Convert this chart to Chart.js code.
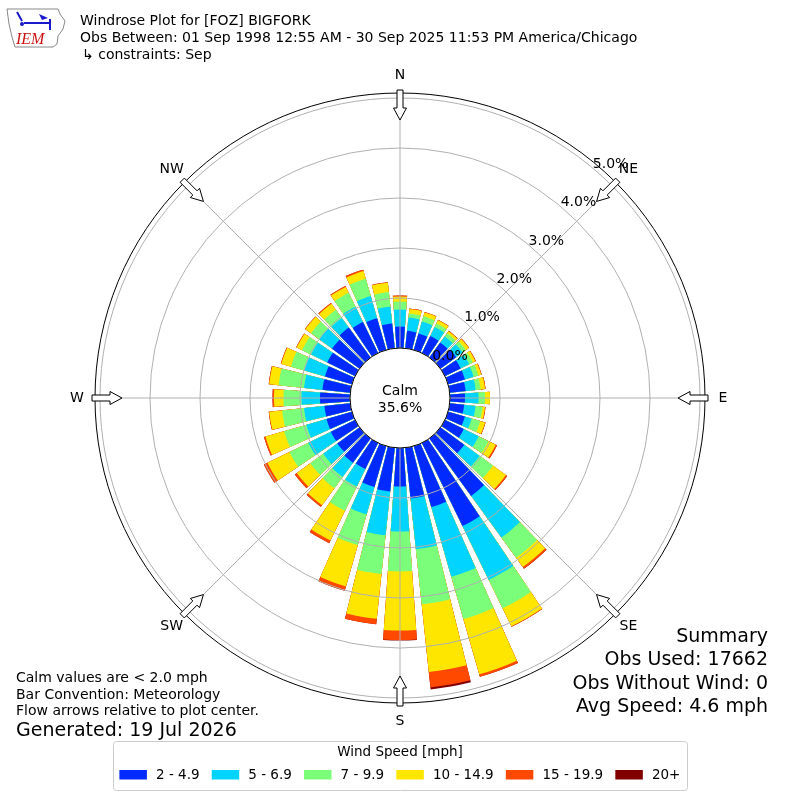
<!DOCTYPE html>
<html>
<head>
<meta charset="utf-8">
<title>Windrose Plot for [FOZ] BIGFORK</title>
<script src="https://cdn.jsdelivr.net/npm/chart.js@4.4.1/dist/chart.umd.min.js"></script>
<style>
html, body { margin: 0; padding: 0; background: #ffffff; }
canvas { display: block; }
</style>
</head>
<body>
<canvas id="windrose" width="800" height="800"></canvas>
<script>
var directions = [0, 10, 20, 30, 40, 50, 60, 70, 80, 90, 100, 110, 120, 130, 140, 150, 160, 170,
    180, 190, 200, 210, 220, 230, 240, 250, 260, 270, 280, 290, 300, 310, 320, 330, 340, 350];
var compassLabels = ['N', 'NE', 'E', 'SE', 'S', 'SW', 'W', 'NW'];
var speedBins = ['2 - 4.9', '5 - 6.9', '7 - 9.9', '10 - 14.9', '15 - 19.9', '20+'];
var binColors = ['#002aff', '#00d4ff', '#7bff7b', '#ffe600', '#ff4800', '#800000'];

// percent of all obs, per direction, one list per speed bin
var pct2to5 = [0.43, 0.35, 0.34, 0.38, 0.37, 0.39, 0.35, 0.35, 0.32, 0.30, 0.29, 0.35, 0.42, 0.59, 1.42, 1.85, 1.27, 1.02,
    0.77, 0.88, 0.85, 0.58, 0.60, 0.55, 0.54, 0.53, 0.52, 0.60, 0.56, 0.56, 0.62, 0.68, 0.74, 0.69, 0.66, 0.50];
var pct5to7 = [0.34, 0.27, 0.25, 0.20, 0.15, 0.16, 0.19, 0.18, 0.20, 0.27, 0.23, 0.14, 0.33, 0.38, 1.03, 1.20, 1.45, 1.02,
    0.90, 0.88, 0.57, 0.39, 0.35, 0.35, 0.50, 0.42, 0.41, 0.37, 0.37, 0.43, 0.36, 0.32, 0.24, 0.34, 0.46, 0.34];
var pct7to10 = [0.16, 0.08, 0.11, 0.08, 0.08, 0.08, 0.08, 0.10, 0.10, 0.13, 0.14, 0.18, 0.22, 0.33, 0.50, 0.63, 0.88, 1.11,
    0.80, 0.78, 0.64, 0.54, 0.28, 0.32, 0.42, 0.46, 0.44, 0.36, 0.51, 0.28, 0.20, 0.20, 0.20, 0.31, 0.36, 0.29];
var pct10to15 = [0.10, 0.09, 0.08, 0.07, 0.05, 0.07, 0.06, 0.06, 0.09, 0.10, 0.05, 0.10, 0.16, 0.32, 0.23, 0.40, 1.15, 1.36,
    1.18, 0.90, 0.86, 0.66, 0.42, 0.33, 0.49, 0.39, 0.26, 0.19, 0.19, 0.20, 0.12, 0.14, 0.15, 0.13, 0.16, 0.19];
var pct15to20 = [0.02, 0.01, 0.01, 0.01, 0.01, 0.01, 0.01, 0.01, 0.01, 0.00, 0.01, 0.01, 0.03, 0.03, 0.04, 0.01, 0.05, 0.31,
    0.19, 0.11, 0.09, 0.06, 0.04, 0.05, 0.08, 0.03, 0.01, 0.03, 0.01, 0.01, 0.01, 0.01, 0.02, 0.02, 0.03, 0.01];
var pct20plus = [0, 0, 0, 0, 0, 0, 0, 0, 0, 0, 0, 0, 0, 0, 0, 0, 0, 0.04,
    0.01, 0, 0, 0, 0, 0, 0, 0, 0, 0, 0, 0, 0, 0, 0, 0, 0, 0];

var radialTicks = [0, 1, 2, 3, 4, 5];
var calmPercent = 35.6;

var titleLines = ['Windrose Plot for [FOZ] BIGFORK',
    'Obs Between: 01 Sep 1998 12:55 AM - 30 Sep 2025 11:53 PM America/Chicago',
    '\u21b3 constraints: Sep'];
var noteLines = ['Calm values are < 2.0 mph', 'Bar Convention: Meteorology', 'Flow arrows relative to plot center.'];
var generatedText = 'Generated: 19 Jul 2026';
var summaryLines = ['Summary', 'Obs Used: 17662', 'Obs Without Wind: 0', 'Avg Speed: 4.6 mph'];
var legendTitle = 'Wind Speed [mph]';

var binSeries = [pct2to5, pct5to7, pct7to10, pct10to15, pct15to20, pct20plus];
var barWidth = 8;   // degrees of each bar
var gapWidth = 2;   // degrees of white between bars
var rMin = -1;      // 0% sits one ring out, leaving room for the calm circle
var FONT = "'DejaVu Sans', sans-serif";

// polarArea can't stack, so every dataset carries the running total and the
// smaller totals get painted over the bigger ones. An empty slot after each
// direction makes the gap.
var roseLabels = [];
directions.forEach(function(d) {
    roseLabels.push(d + '\u00b0', '');
});

var roseDatasets = binSeries.map(function(series, b) {
    var data = [];
    directions.forEach(function(d, i) {
        var total = 0;
        for (var k = 0; k <= b; k++) {
            total += binSeries[k][i];
        }
        data.push(total, rMin);
    });
    return {
        label: speedBins[b],
        data: data,
        backgroundColor: binColors[b],
        borderWidth: 0,
        angle: function(ctx) {
            return ctx.dataIndex % 2 === 0 ? barWidth : gapWidth;
        }
    };
});

function polar(scale, r, deg) {
    var a = deg * Math.PI / 180;
    return { x: scale.xCenter + r * Math.sin(a), y: scale.yCenter - r * Math.cos(a) };
}

function drawArrow(ctx, scale, deg, rTip, rTail) {
    var a = deg * Math.PI / 180;
    var head = 12, hw = 6.5, sw = 3;
    var pts = [[rTip, 0], [rTip + head, hw], [rTip + head, sw], [rTail, sw],
               [rTail, -sw], [rTip + head, -sw], [rTip + head, -hw]];
    ctx.beginPath();
    pts.forEach(function(p, i) {
        var x = scale.xCenter + p[0] * Math.sin(a) + p[1] * Math.cos(a);
        var y = scale.yCenter - p[0] * Math.cos(a) + p[1] * Math.sin(a);
        if (i === 0) ctx.moveTo(x, y); else ctx.lineTo(x, y);
    });
    ctx.closePath();
    ctx.fillStyle = '#ffffff';
    ctx.fill();
    ctx.strokeStyle = '#000000';
    ctx.lineWidth = 1;
    ctx.stroke();
}

function drawLogo(ctx) {
    ctx.save();
    // rough Iowa outline
    var iowa = [[7, 9], [58, 9], [60, 14], [65, 21], [63, 29], [58, 36], [57, 44], [53, 47], [15, 47], [12, 37], [9, 24]];
    ctx.beginPath();
    iowa.forEach(function(p, i) { if (i === 0) ctx.moveTo(p[0], p[1]); else ctx.lineTo(p[0], p[1]); });
    ctx.closePath();
    ctx.strokeStyle = '#888888';
    ctx.lineWidth = 1;
    ctx.stroke();
    // wind barb
    ctx.strokeStyle = '#1a1acc';
    ctx.fillStyle = '#1a1acc';
    ctx.lineWidth = 2;
    ctx.beginPath();
    ctx.moveTo(24, 23); ctx.lineTo(50, 23);
    ctx.moveTo(17, 12); ctx.lineTo(22, 21);
    ctx.moveTo(50, 19); ctx.lineTo(50, 30);
    ctx.stroke();
    ctx.beginPath();
    ctx.moveTo(39, 14); ctx.lineTo(48, 18); ctx.lineTo(42, 20);
    ctx.closePath();
    ctx.fill();
    ctx.beginPath();
    ctx.arc(22, 24, 2, 0, 2 * Math.PI);
    ctx.fill();
    ctx.fillStyle = '#cc1111';
    ctx.font = 'italic 16px "Liberation Serif", serif';
    ctx.textAlign = 'left';
    ctx.textBaseline = 'alphabetic';
    ctx.fillText('IEM', 16, 44);
    ctx.restore();
}

var roseDecor = {
    id: 'roseDecor',
    afterDatasetsDraw: function(chart) {
        var s = chart.scales.r, ctx = chart.ctx;
        var r0 = s.getDistanceFromCenterForValue(0);
        var r1 = s.getDistanceFromCenterForValue(radialTicks[radialTicks.length - 1]);
        ctx.save();
        ctx.strokeStyle = '#b0b0b0';
        ctx.lineWidth = 1;
        for (var i = 0; i < 8; i++) {
            var p0 = polar(s, r0, i * 45), p1 = polar(s, r1, i * 45);
            ctx.beginPath();
            ctx.moveTo(p0.x, p0.y);
            ctx.lineTo(p1.x, p1.y);
            ctx.stroke();
        }
        ctx.restore();
    },
    afterDraw: function(chart) {
        var s = chart.scales.r, ctx = chart.ctx;
        var R = s.drawingArea;
        var rCalm = s.getDistanceFromCenterForValue(0);
        ctx.save();

        // calm circle
        ctx.beginPath();
        ctx.arc(s.xCenter, s.yCenter, rCalm, 0, 2 * Math.PI);
        ctx.fillStyle = '#ffffff';
        ctx.fill();
        ctx.strokeStyle = '#000000';
        ctx.lineWidth = 1;
        ctx.stroke();
        ctx.fillStyle = '#000000';
        ctx.font = '14px ' + FONT;
        ctx.textAlign = 'center';
        ctx.textBaseline = 'alphabetic';
        ctx.fillText('Calm', s.xCenter, s.yCenter - 3);
        ctx.fillText(calmPercent.toFixed(1) + '%', s.xCenter, s.yCenter + 14);

        // outer frame
        ctx.beginPath();
        ctx.arc(s.xCenter, s.yCenter, R + 5, 0, 2 * Math.PI);
        ctx.stroke();

        // ring labels
        ctx.textAlign = 'left';
        radialTicks.forEach(function(v) {
            var p = polar(s, s.getDistanceFromCenterForValue(v), 40);
            ctx.fillText(v.toFixed(1) + '%', p.x, p.y);
        });

        // direction arrows and names
        compassLabels.forEach(function(lab, i) {
            drawArrow(ctx, s, i * 45, R - 22, R + 8);
            var p = polar(s, R + 23, i * 45);
            ctx.fillStyle = '#000000';
            ctx.font = '14px ' + FONT;
            ctx.textAlign = 'center';
            ctx.textBaseline = 'middle';
            ctx.fillText(lab, p.x, p.y);
        });

        // header
        ctx.textBaseline = 'alphabetic';
        ctx.textAlign = 'left';
        ctx.font = '14px ' + FONT;
        ctx.fillText(titleLines[0], 80, 25);
        ctx.fillText(titleLines[1], 80, 42);
        ctx.fillText(titleLines[2], 82, 59);
        drawLogo(ctx);

        // notes, lower left
        ctx.fillStyle = '#000000';
        ctx.font = '14px ' + FONT;
        noteLines.forEach(function(t, i) {
            ctx.fillText(t, 16, 682 + i * 16.7);
        });
        ctx.font = '19px ' + FONT;
        ctx.fillText(generatedText, 16, 736);

        // summary, lower right
        ctx.textAlign = 'right';
        summaryLines.forEach(function(t, i) {
            ctx.fillText(t, 768, 642 + i * 23.3);
        });

        // legend box
        ctx.beginPath();
        ctx.roundRect(113.5, 741.5, 574, 49, 3);
        ctx.fillStyle = '#ffffff';
        ctx.fill();
        ctx.strokeStyle = '#cccccc';
        ctx.stroke();
        ctx.fillStyle = '#000000';
        ctx.font = '13.5px ' + FONT;
        ctx.textAlign = 'center';
        ctx.textBaseline = 'middle';
        ctx.fillText(legendTitle, 400, 752);
        ctx.textAlign = 'left';
        var x = 119.4;
        speedBins.forEach(function(lab, i) {
            ctx.fillStyle = binColors[i];
            ctx.fillRect(x, 770, 27.5, 9.5);
            ctx.fillStyle = '#000000';
            ctx.fillText(lab, x + 36.6, 775);
            x += 27.5 + 9.1 + ctx.measureText(lab).width + 12.2;
        });

        ctx.restore();
    }
};

var config = {
    type: 'polarArea',
    data: {
        labels: roseLabels,
        datasets: roseDatasets
    },
    options: {
        responsive: false,
        animation: false,
        layout: {
            padding: { left: 100, right: 100, top: 98, bottom: 102 }
        },
        plugins: {
            legend: { display: false },
            tooltip: { enabled: false }
        },
        scales: {
            r: {
                min: rMin,
                max: radialTicks[radialTicks.length - 1],
                startAngle: -barWidth / 2,
                ticks: { display: false, stepSize: 1 },
                grid: { color: '#b0b0b0', lineWidth: 1, z: 1 },
                angleLines: { display: false },
                pointLabels: { display: false }
            }
        }
    },
    plugins: [roseDecor]
};

var ctx = document.getElementById('windrose').getContext('2d');
window.windroseChart = new Chart(ctx, config);
</script>
</body>
</html>
